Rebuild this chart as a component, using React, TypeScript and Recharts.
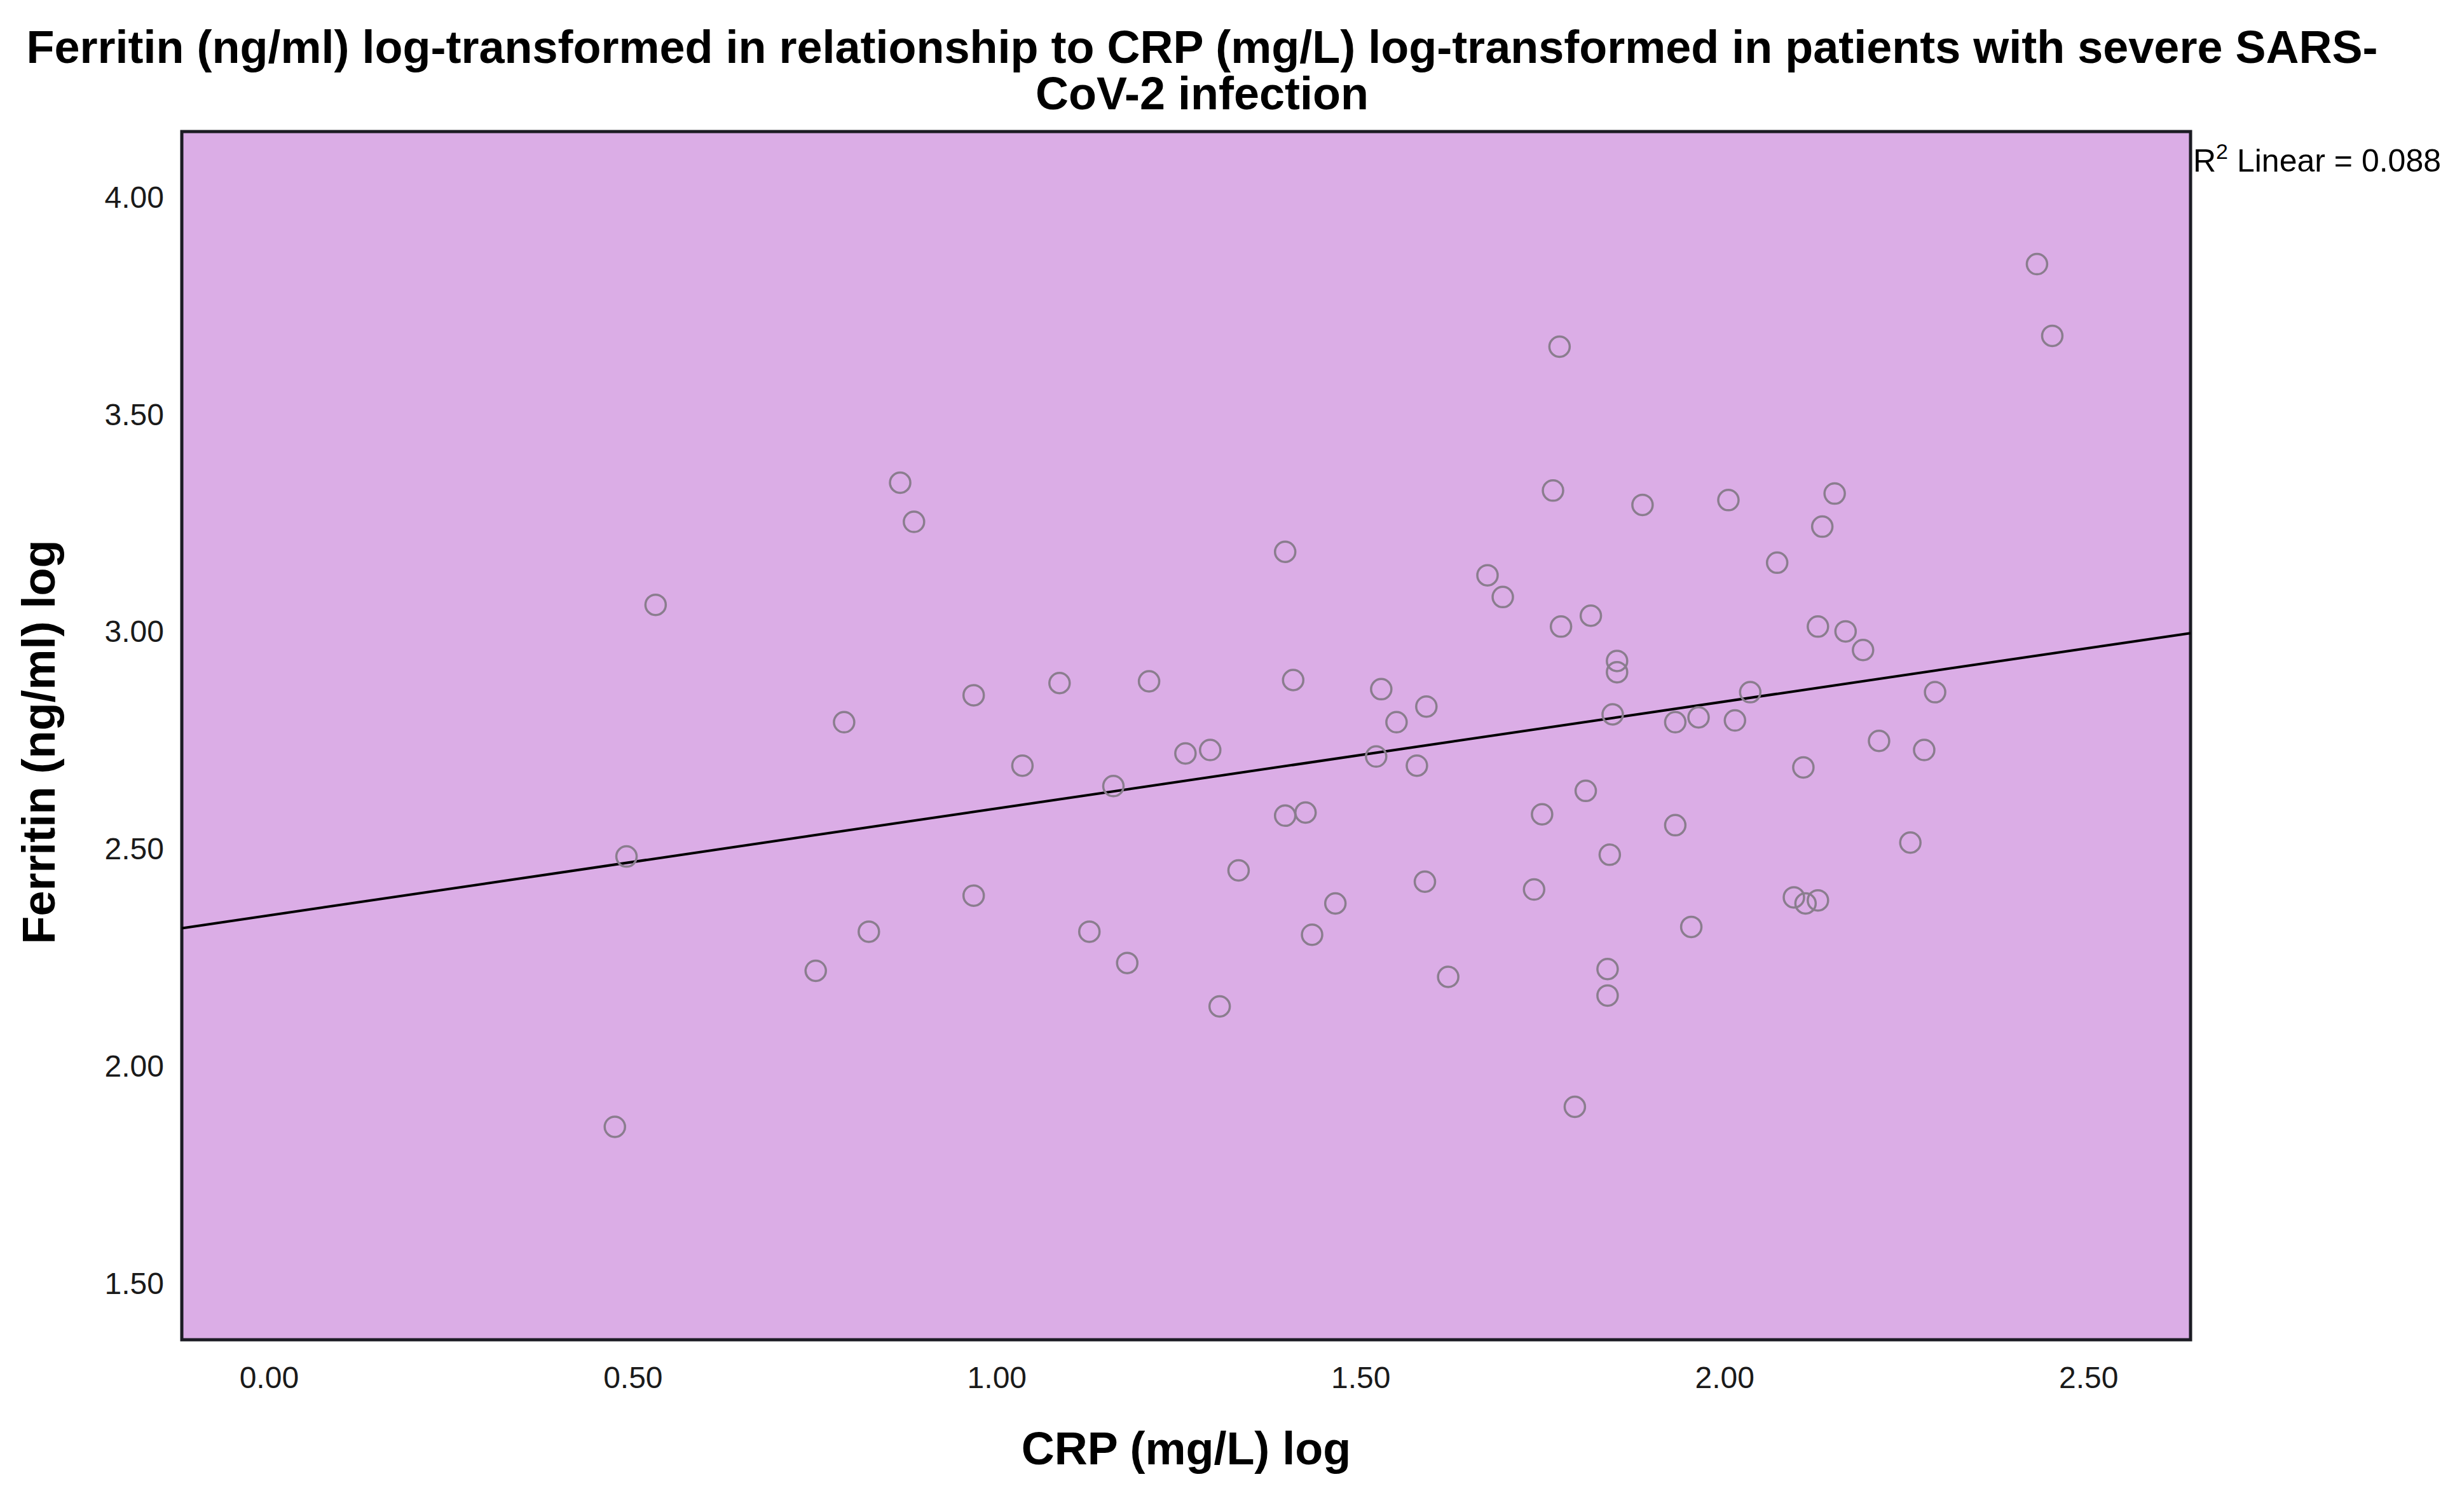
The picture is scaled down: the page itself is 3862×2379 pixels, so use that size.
import React from "react";
import {
  ScatterChart,
  Scatter,
  XAxis,
  YAxis,
  CartesianGrid,
  ReferenceLine,
  ReferenceArea,
} from "recharts";

// CRP (mg/L) log values
const crpLog = [
  0.475, 0.491, 0.531, 0.751, 0.79, 0.824, 0.867, 0.886, 0.968, 0.968,
  1.035, 1.086, 1.127, 1.16, 1.179, 1.209, 1.259, 1.293, 1.306, 1.332,
  1.396, 1.396, 1.407, 1.424, 1.433, 1.465, 1.521, 1.528, 1.549, 1.577,
  1.588, 1.59, 1.62, 1.674, 1.695, 1.738, 1.749, 1.764, 1.773, 1.775,
  1.794, 1.809, 1.816, 1.839, 1.839, 1.842, 1.846, 1.852, 1.852, 1.887,
  1.932, 1.932, 1.954, 1.964, 2.005, 2.014, 2.035, 2.072, 2.095, 2.111,
  2.108, 2.128, 2.128, 2.134, 2.151, 2.166, 2.19, 2.212, 2.255, 2.274,
  2.289, 2.429, 2.45,
];

// Ferritin (ng/ml) log values
const ferritinLog = [
  1.86, 2.482, 3.061, 2.219, 2.791, 2.309, 3.342, 3.252, 2.853, 2.392,
  2.691, 2.881, 2.309, 2.644, 2.237, 2.885, 2.719, 2.727, 2.137, 2.45,
  3.183, 2.576, 2.888, 2.583, 2.302, 2.374, 2.712, 2.867, 2.791, 2.691,
  2.424, 2.827, 2.205, 3.129, 3.079, 2.406, 2.579, 3.324, 3.655, 3.011,
  1.906, 2.633, 3.036, 2.162, 2.223, 2.486, 2.809, 2.932, 2.906, 3.291,
  2.791, 2.554, 2.32, 2.802, 3.302, 2.795, 2.86, 3.158, 2.388, 2.374,
  2.687, 2.381, 3.011, 3.241, 3.317, 3.0, 2.957, 2.748, 2.514, 2.727,
  2.86, 3.845, 3.68,
];

// Linear fit endpoints, R² = 0.088
const fitCrp = [-0.12, 2.64];
const fitFerritin = [2.317, 2.996];

const xTicks = [0, 0.5, 1.0, 1.5, 2.0, 2.5];
const yTicks = [1.5, 2.0, 2.5, 3.0, 3.5, 4.0];
const xDomain = [-0.12, 2.64];
const yDomain = [1.37, 4.15];

const titleLines = [
  "Ferritin (ng/ml) log-transformed in relationship to CRP (mg/L) log-transformed in patients with severe SARS-",
  "CoV-2 infection",
];

const points = crpLog.map((x, i) => ({ crp: x, ferritin: ferritinLog[i] }));

const FONT = "'Liberation Sans', Arial, Helvetica, sans-serif";

const W = 3862;
const H = 2379;

const Marker = (props: any) => {
  const { cx, cy } = props;
  if (cx == null || cy == null) return <g />;
  return (
    <circle
      cx={cx}
      cy={cy}
      r={16}
      fill="none"
      stroke="#8a7d8e"
      strokeWidth={3.5}
    />
  );
};

export default function App() {
  return (
    <div
      style={{
        position: "absolute",
        left: 0,
        top: 0,
        width: W,
        height: H,
        background: "#ffffff",
      }}
    >
      <ScatterChart
        width={W}
        height={H}
        margin={{ top: 207, right: 416, bottom: 51, left: 86 }}
      >
        <CartesianGrid
          horizontal={false}
          vertical={false}
          fill="#dbade6"
          fillOpacity={1}
        />
        <XAxis
          type="number"
          dataKey="crp"
          domain={xDomain}
          ticks={xTicks}
          allowDataOverflow
          tickFormatter={(v: number) => v.toFixed(2)}
          axisLine={false}
          tickLine={false}
          tickSize={0}
          tickMargin={42}
          height={220}
          tick={{ fontSize: 48, fill: "#1a1a1a", fontFamily: FONT }}
          label={{
            content: (p: any) => {
              const vb = p.viewBox || {};
              return (
                <text
                  x={vb.x + vb.width / 2}
                  y={vb.y + 196}
                  textAnchor="middle"
                  fontSize={72}
                  fontWeight="bold"
                  fontFamily={FONT}
                  fill="#000"
                >
                  CRP (mg/L) log
                </text>
              );
            },
          }}
        />
        <YAxis
          type="number"
          dataKey="ferritin"
          domain={yDomain}
          ticks={yTicks}
          allowDataOverflow
          tickFormatter={(v: number) => v.toFixed(2)}
          axisLine={false}
          tickLine={false}
          tickSize={0}
          tickMargin={28}
          width={200}
          tick={{ fontSize: 48, fill: "#1a1a1a", fontFamily: FONT }}
          label={{
            content: (p: any) => {
              const vb = p.viewBox || {};
              const cx = vb.x - 25;
              const cy = vb.y + vb.height / 2 + 10;
              return (
                <text
                  x={cx}
                  y={cy}
                  textAnchor="middle"
                  dominantBaseline="central"
                  transform={`rotate(-90 ${cx} ${cy})`}
                  fontSize={72}
                  fontWeight="bold"
                  fontFamily={FONT}
                  fill="#000"
                >
                  Ferritin (ng/ml) log
                </text>
              );
            },
          }}
        />
        <ReferenceLine
          segment={[
            { x: fitCrp[0], y: fitFerritin[0] },
            { x: fitCrp[1], y: fitFerritin[1] },
          ]}
          stroke="#000"
          strokeWidth={4}
          ifOverflow="hidden"
        />
        <Scatter
          data={points}
          shape={Marker}
          isAnimationActive={false}
        />
        <ReferenceArea
          x1={xDomain[0]}
          x2={xDomain[1]}
          y1={yDomain[0]}
          y2={yDomain[1]}
          fill="none"
          stroke="#1c1c24"
          strokeWidth={5}
          ifOverflow="visible"
        />
      </ScatterChart>
      <svg
        width={W}
        height={H}
        style={{ position: "absolute", left: 0, top: 0, pointerEvents: "none" }}
      >
        {titleLines.map((t, i) => (
          <text
            key={i}
            x={1891}
            y={99 + i * 73}
            textAnchor="middle"
            fontSize={72}
            fontWeight="bold"
            fontFamily={FONT}
            fill="#000"
          >
            {t}
          </text>
        ))}
        <text
          x={3450}
          y={270}
          fontSize={50}
          fontFamily={FONT}
          fill="#000"
        >
          R
          <tspan dy={-20} fontSize={34}>
            2
          </tspan>
          <tspan dy={20}> Linear = 0.088</tspan>
        </text>
      </svg>
    </div>
  );
}
